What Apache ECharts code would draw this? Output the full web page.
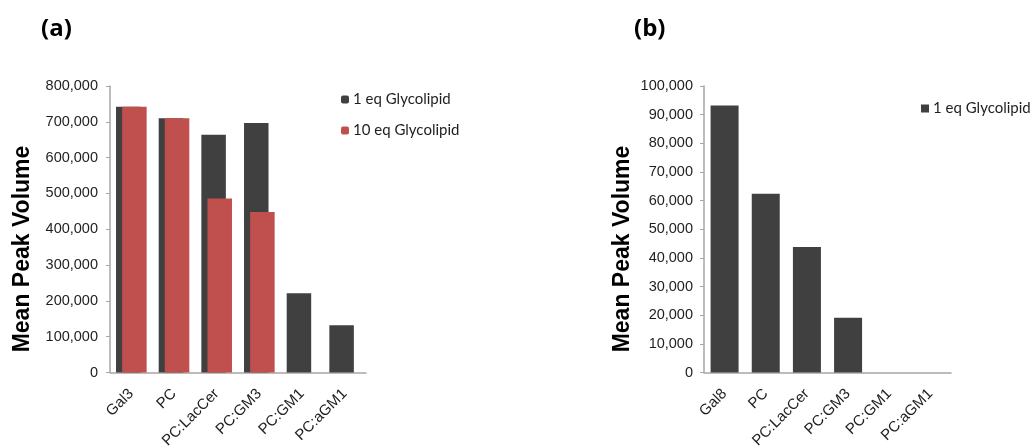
<!DOCTYPE html>
<html>
<head>
<meta charset="utf-8">
<script src="https://cdn.jsdelivr.net/npm/echarts@6/dist/echarts.min.js"></script>
<style>
  html, body { margin: 0; padding: 0; background: #fff; }
  #chart { width: 1033px; height: 447px; }
</style>
</head>
<body>
<div id="chart"></div>
<script>
// Panel (a): two glycolipid loadings
const categoriesA = ['Gal3', 'PC', 'PC:LacCer', 'PC:GM3', 'PC:GM1', 'PC:aGM1'];
const oneEqA = [742000, 710000, 664000, 697000, 221000, 132000];
const tenEqA = [742000, 710000, 486000, 448000, null, null];

// Panel (b): single loading
const categoriesB = ['Gal8', 'PC', 'PC:LacCer', 'PC:GM3', 'PC:GM1', 'PC:aGM1'];
const oneEqB = [93200, 62400, 43800, 19100, 0, 0];

const ticksA = { min: 0, max: 800000, interval: 100000 };
const ticksB = { min: 0, max: 100000, interval: 10000 };

const yTitle = 'Mean Peak Volume';

const DARK = '#404040';
const RED = '#C0504D';
const AXIS = '#a6a6a6';

const fmt = v => v.toLocaleString('en-US');

function catAxis(idx, data) {
  return {
    type: 'category', gridIndex: idx, data: data,
    axisLine: { lineStyle: { color: AXIS, width: 1.5 } },
    axisTick: { show: false },
    axisLabel: { rotate: 45, color: '#1e1e1e', fontFamily: 'Liberation Sans', fontSize: 15, margin: 19, interval: 0 }
  };
}
function valAxis(idx, t, margin) {
  return {
    type: 'value', gridIndex: idx, min: t.min, max: t.max, interval: t.interval,
    axisLine: { show: true, lineStyle: { color: AXIS, width: 1.5 } },
    axisTick: { show: true, length: 4, lineStyle: { color: AXIS } },
    splitLine: { show: false },
    axisLabel: { formatter: fmt, color: '#1e1e1e', fontFamily: 'Liberation Sans', fontSize: 14.5, margin: margin }
  };
}
function axisTitle(x, y) {
  return {
    type: 'text', x: x, y: y, rotation: Math.PI / 2,
    style: {
      text: yTitle, fill: '#000', align: 'center', verticalAlign: 'middle',
      font: 'bold 23px "Liberation Sans"'
    }
  };
}

const chart = echarts.init(document.getElementById('chart'), null, { renderer: 'canvas' });
chart.setOption({
  animation: false,
  backgroundColor: '#fff',
  title: [
    { text: '(a)', left: 36, top: 12, textStyle: { fontFamily: 'Open Sans', fontWeight: 'bold', fontSize: 24, color: '#000' } },
    { text: '(b)', left: 629, top: 12, textStyle: { fontFamily: 'Open Sans', fontWeight: 'bold', fontSize: 24, color: '#000' } }
  ],
  graphic: [axisTitle(23, 249), axisTitle(623, 249)],
  legend: [
    {
      data: ['1 eq Glycolipid', '10 eq Glycolipid'], orient: 'vertical',
      left: 336, top: 87, itemWidth: 8, itemHeight: 8, itemGap: 16,
      textStyle: { fontFamily: 'Lato', fontSize: 15, color: '#1e1e1e', padding: [0, 0, 0, -1] }
    },
    {
      data: [{ name: '1 eq Glycolipid ', icon: 'rect' }], orient: 'vertical',
      left: 916, top: 96, itemWidth: 8, itemHeight: 8,
      textStyle: { fontFamily: 'Lato', fontSize: 15, color: '#1e1e1e', padding: [0, 0, 0, -1] }
    }
  ],
  grid: [
    { left: 110, top: 86, width: 256, height: 286.5, outerBoundsMode: 'none' },
    { left: 704, top: 86, width: 247, height: 286.5, outerBoundsMode: 'none' }
  ],
  xAxis: [catAxis(0, categoriesA), catAxis(1, categoriesB)],
  yAxis: [valAxis(0, ticksA, 12), valAxis(1, ticksB, 11)],
  series: [
    {
      name: '1 eq Glycolipid', type: 'bar', xAxisIndex: 0, yAxisIndex: 0,
      data: oneEqA, barWidth: 24.5, barGap: '-75%', itemStyle: { color: DARK }
    },
    {
      name: '10 eq Glycolipid', type: 'bar', xAxisIndex: 0, yAxisIndex: 0,
      data: tenEqA, barWidth: 24.5, barGap: '-75%', itemStyle: { color: RED }
    },
    {
      name: '1 eq Glycolipid ', type: 'bar', xAxisIndex: 1, yAxisIndex: 1,
      data: oneEqB, barWidth: 28, itemStyle: { color: DARK }
    }
  ]
});
</script>
</body>
</html>
